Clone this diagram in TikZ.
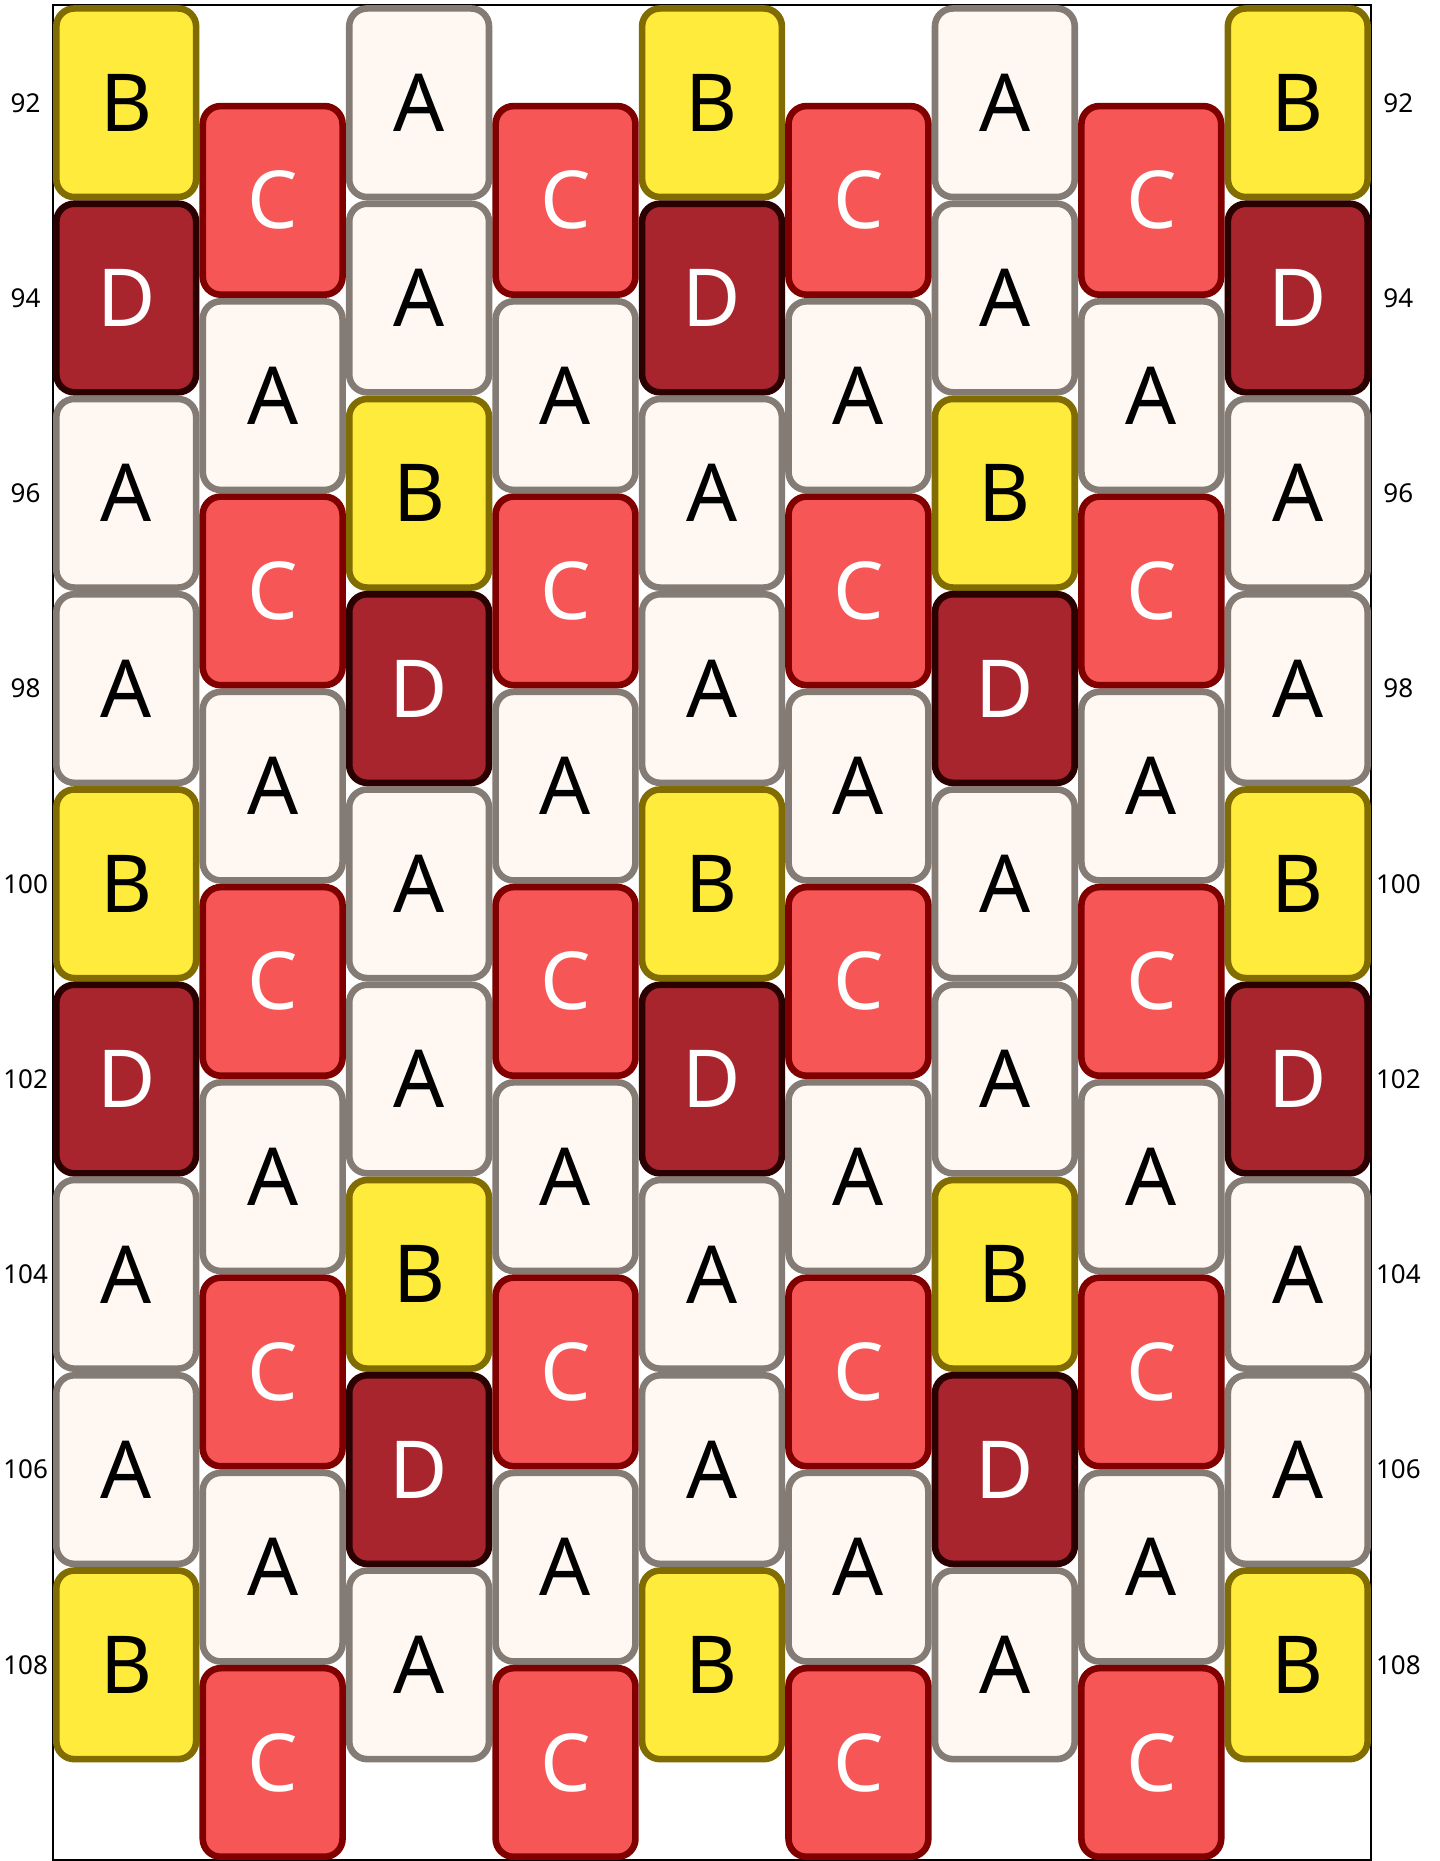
\documentclass[tikz,border=0pt]{standalone}
\usepackage{fontspec}
\setmainfont{Noto Sans}
\usepackage{xcolor}
\definecolor{fillA}{HTML}{FEF7F2}
\definecolor{lineA}{HTML}{857B75}
\definecolor{fillB}{HTML}{FFEB3B}
\definecolor{lineB}{HTML}{806C00}
\definecolor{fillC}{HTML}{F65656}
\definecolor{lineC}{HTML}{800000}
\definecolor{fillD}{HTML}{A8252E}
\definecolor{lineD}{HTML}{2B0000}
\colorlet{textA}{black}
\colorlet{textB}{black}
\colorlet{textC}{white}
\colorlet{textD}{white}

\begin{document}
\begin{tikzpicture}[x=73.22pt, y=-48.815pt,
    tile/.style={draw=line#1, fill=fill#1, text=text#1, line width=3.3pt,
      rounded corners=9pt, minimum width=69.9pt, minimum height=94.3pt,
      inner sep=0pt, font=\fontsize{40}{40}\selectfont},
    rowlabel/.style={font=\fontsize{13}{13}\selectfont, inner sep=0pt}]
  \useasboundingbox (0.1381,90.9488) rectangle (9.9647,110.0105);
  \draw[line width=1pt] (0.5,91) rectangle (9.5,110);
  % odd columns start at 92
  \foreach \col/\seq in {1/{B,D,A,A,B,D,A,A,B}, 3/{A,A,B,D,A,A,B,D,A},
      5/{B,D,A,A,B,D,A,A,B}, 7/{A,A,B,D,A,A,B,D,A}, 9/{B,D,A,A,B,D,A,A,B}}
    \foreach \kind [count=\i from 0] in \seq
      \node[tile=\kind] (t\col-\i) at (\col,92+2*\i) {\kind};
  % even columns start at 93
  \foreach \col in {2,4,6,8}
    \foreach \kind [count=\i from 0] in {C,A,C,A,C,A,C,A,C}
      \node[tile=\kind] (t\col-\i) at (\col,93+2*\i) {\kind};
  % row numbers on both sides
  \foreach \v in {92,94,...,108} {
    \node[rowlabel] (left\v) at (0.313,\v) {\v};
    \node[rowlabel] (right\v) at (9.687,\v) {\v};
  }
\end{tikzpicture}
\end{document}
